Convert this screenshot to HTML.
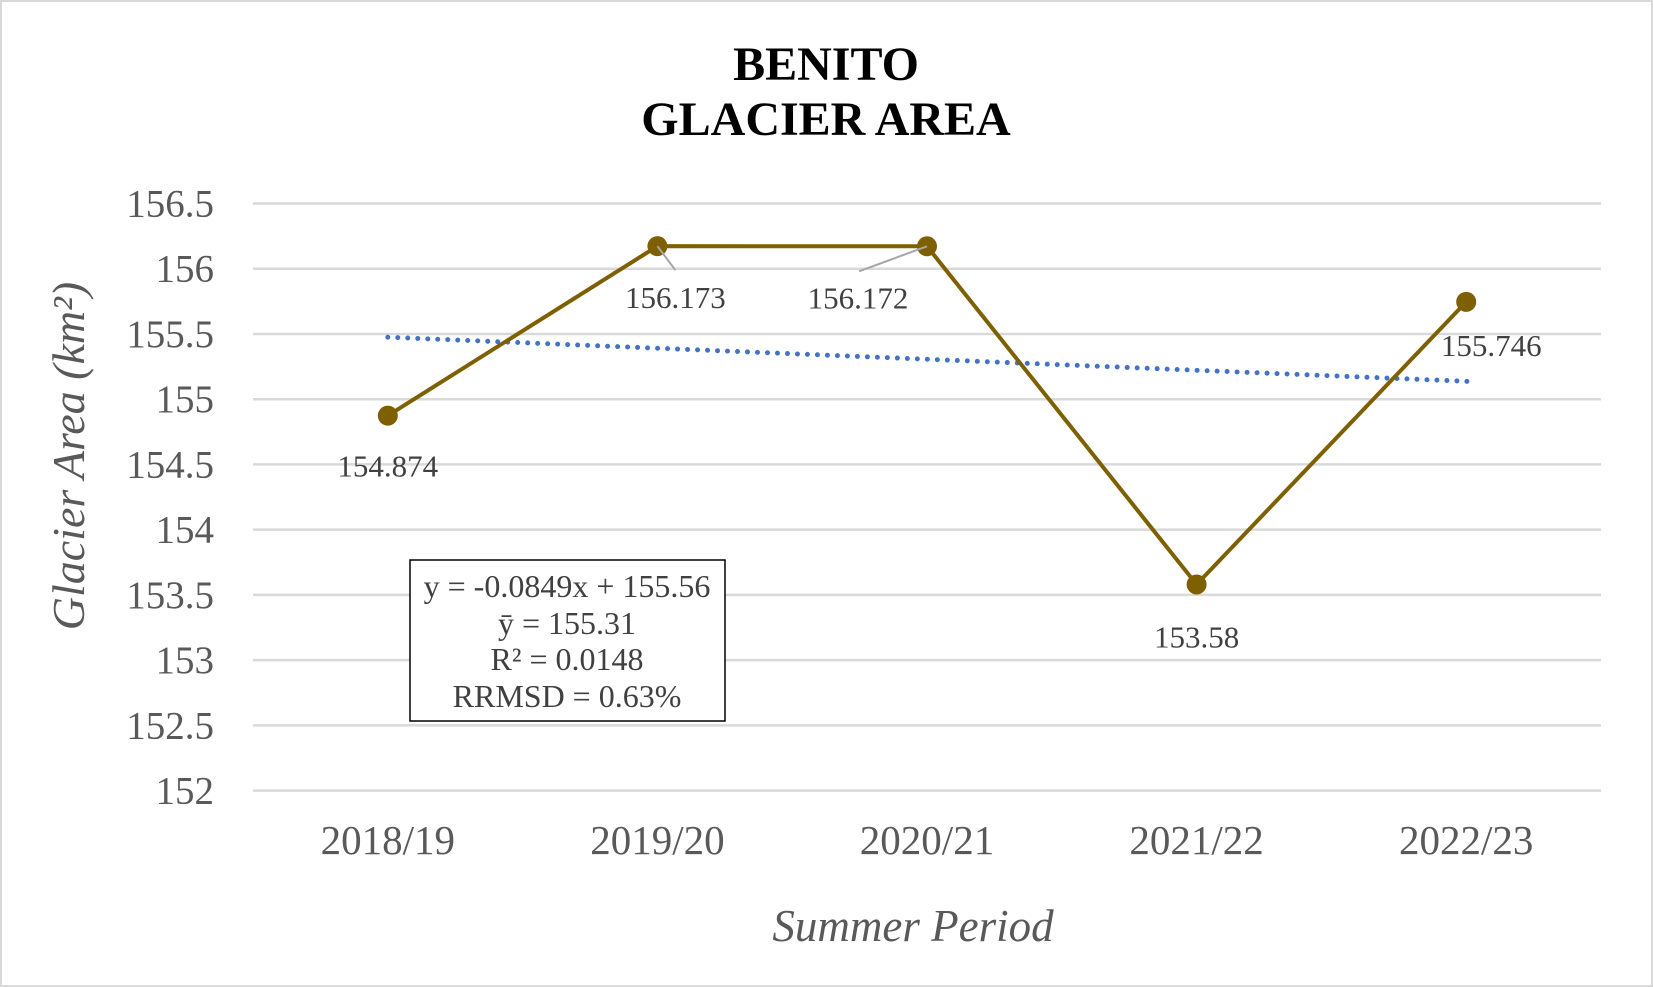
<!DOCTYPE html>
<html><head><meta charset="utf-8"><style>
html,body{margin:0;padding:0;background:#fff}
svg{display:block}
text{font-family:"Liberation Serif",serif}
</style></head><body>
<svg width="1653" height="987" viewBox="0 0 1653 987">
<rect x="1" y="1" width="1651" height="985" fill="#fff" stroke="#d9d9d9" stroke-width="2"/>
<text x="826" y="80" text-anchor="middle" font-size="48" font-weight="bold">BENITO</text>
<text x="826" y="135" text-anchor="middle" font-size="48" font-weight="bold">GLACIER AREA</text>
<g id="grid"></g><g id="yt"></g><g id="xt"></g>
<text transform="translate(84,456) rotate(-90)" text-anchor="middle" font-size="46" font-style="italic" fill="#595959">Glacier Area (km²)</text>
<text x="913" y="941" text-anchor="middle" font-size="45" font-style="italic" fill="#595959">Summer Period</text>
<g id="trend"></g><g id="series"></g><g id="labels"></g>
<rect x="410" y="560" width="315" height="161" fill="#fff" stroke="#000" stroke-width="1.5"/>
<g font-size="32" fill="#404040" text-anchor="middle">
<text x="567" y="597">y = -0.0849x + 155.56</text>
<text x="567" y="634">ȳ = 155.31</text>
<text x="567" y="670">R² = 0.0148</text>
<text x="567" y="707">RRMSD = 0.63%</text>
</g>
</svg>
<script>
const categories=["2018/19","2019/20","2020/21","2021/22","2022/23"];
const areaValues=[154.874,156.173,156.172,153.58,155.746];
const yTicks=[152,152.5,153,153.5,154,154.5,155,155.5,156,156.5];
const trendSlope=-0.0849, trendIntercept=155.56;
const NS="http://www.w3.org/2000/svg";
const L=253,R=1601,T=203.5,B=790.6,ymin=152,ymax=156.5;
const xs=i=>L+(R-L)/categories.length*(i+0.5);
const ys=v=>B-(v-ymin)/(ymax-ymin)*(B-T);
function mk(p,tag,a){const e=document.createElementNS(NS,tag);for(const k in a)e.setAttribute(k,a[k]);document.getElementById(p).appendChild(e);return e;}
yTicks.forEach(t=>{
 const g=mk('grid','line',{x1:L,x2:R,y1:ys(t),y2:ys(t),stroke:'#d9d9d9','stroke-width':2.5});
 
 
 const tx=mk('yt','text',{x:214,y:ys(t)+13,'text-anchor':'end','font-size':39,fill:'#595959'});
 tx.textContent=t;
 
 
});
categories.forEach((c,i)=>{
 const tx=mk('xt','text',{x:xs(i),y:854,'text-anchor':'middle','font-size':41,fill:'#595959'});
 tx.textContent=c;
 
 
});
const tl=mk('trend','line',{x1:xs(0),y1:ys(trendSlope*1+trendIntercept),x2:xs(4)+5,y2:ys(trendSlope*5+trendIntercept),stroke:'#4472c4','stroke-width':5,'stroke-dasharray':'0 10','stroke-linecap':'round'});


const pl=mk('series','polyline',{points:areaValues.map((v,i)=>xs(i)+','+ys(v)).join(' '),fill:'none',stroke:'#7f6000','stroke-width':4});


areaValues.forEach((v,i)=>{
 const c=mk('series','circle',{cx:xs(i),cy:ys(v),r:10,fill:'#7f6000'});
 
 
});
const offs=[[0,50],[18,51],[-69,51],[0,52],[25,43]];
const leaders=[null,[[0,0],[18,24]],[[0,0],[-68,25]],null,null];
areaValues.forEach((v,i)=>{
 const x=xs(i),y=ys(v);
 if(leaders[i]){const ln=mk('labels','line',{x1:x+leaders[i][0][0],y1:y+leaders[i][0][1],x2:x+leaders[i][1][0],y2:y+leaders[i][1][1],stroke:'#a6a6a6','stroke-width':2});
  
  }
 const t=mk('labels','text',{x:x+offs[i][0],y:y+offs[i][1]+11,'text-anchor':'middle','font-size':31,fill:'#404040'});
 t.textContent=v;
 
 
});
</script>
</body></html>
